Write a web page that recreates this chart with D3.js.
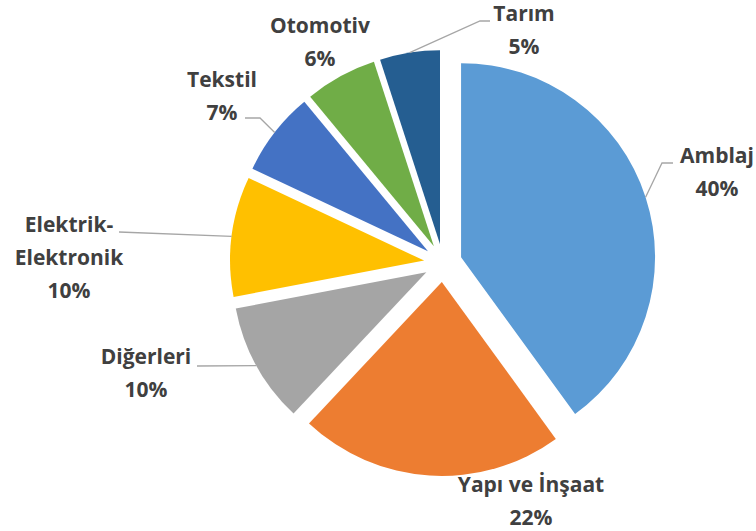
<!DOCTYPE html>
<html>
<head>
<meta charset="utf-8">
<script src="https://cdn.jsdelivr.net/npm/d3@7"></script>
<style>
  body { margin: 0; background: #fff; }
  .label { font-family: "Open Sans", sans-serif; font-weight: 700; font-size: 21px; fill: #404040; }
  .leader { fill: none; stroke: #a6a6a6; stroke-width: 1.3; }
</style>
</head>
<body>
<div id="chart"></div>
<script>
// Sector names and shares (%), clockwise from 12 o'clock
const sectors = ['Amblaj', 'Yapı ve İnşaat', 'Diğerleri', 'Elektrik-Elektronik', 'Tekstil', 'Otomotiv', 'Tarım'];
const shares = [40, 22, 10, 10, 7, 6, 5];
const labelLines = [['Amblaj'], ['Yapı ve İnşaat'], ['Diğerleri'], ['Elektrik-', 'Elektronik'], ['Tekstil'], ['Otomotiv'], ['Tarım']];
const colors = ['#5b9bd5', '#ed7d31', '#a5a5a5', '#ffc000', '#4472c4', '#70ad47', '#255e91'];

const width = 756, height = 531;
const cx = 443, cy = 263, radius = 194, explode = 19;

// label layout (relative to pie centre): text centre x, first baseline y, leader elbow/end
const labelLayout = [
  { x: 274, y: -100, leader: [[219, -100], [230, -100]] },
  { x: 88, y: 229, leader: null },
  { x: -297, y: 101, leader: [[-246, 103]] },
  { x: -374, y: -31, leader: [[-324, -31]] },
  { x: -221, y: -176, leader: [[-183, -145], [-198, -145]] },
  { x: -123, y: -230, leader: null },
  { x: 81, y: -242, leader: [[37, -242], [47, -242]] }
];

const data = sectors.map((name, i) => ({ name, value: shares[i], lines: labelLines[i], color: colors[i], layout: labelLayout[i] }));

const svg = d3.select('#chart').append('svg')
  .attr('width', width)
  .attr('height', height);

const g = svg.append('g').attr('transform', `translate(${cx},${cy})`);

const pie = d3.pie().value(d => d.value).sort(null);
const arc = d3.arc().innerRadius(0).outerRadius(radius);
const arcs = pie(data);

// offset of each exploded slice along its bisector
const offset = d => {
  const a = (d.startAngle + d.endAngle) / 2;
  return [explode * Math.sin(a), -explode * Math.cos(a)];
};

g.selectAll('.slice')
  .data(arcs)
  .enter()
  .append('path')
  .attr('class', 'slice')
  .attr('transform', d => `translate(${offset(d)})`)
  .attr('d', arc)
  .attr('fill', d => d.data.color);

// leader lines start on the slice rim at its bisector
const line = d3.line();
g.selectAll('.leader')
  .data(arcs.filter(d => d.data.layout.leader))
  .enter()
  .append('path')
  .attr('class', 'leader')
  .attr('d', d => {
    const a = (d.startAngle + d.endAngle) / 2;
    const [ox, oy] = offset(d);
    const start = [ox + radius * Math.sin(a), oy - radius * Math.cos(a)];
    return line([start, ...d.data.layout.leader]);
  });

const labels = g.selectAll('.label')
  .data(arcs)
  .enter()
  .append('text')
  .attr('class', 'label')
  .attr('text-anchor', 'middle')
  .attr('x', d => d.data.layout.x)
  .attr('y', d => d.data.layout.y);

labels.each(function(d) {
  const t = d3.select(this);
  const rows = [...d.data.lines, d3.format('.0%')(d.data.value / 100)];
  rows.forEach((r, i) => {
    t.append('tspan')
      .attr('x', d.data.layout.x)
      .attr('dy', i === 0 ? 0 : 33)
      .text(r);
  });
});
</script>
</body>
</html>
